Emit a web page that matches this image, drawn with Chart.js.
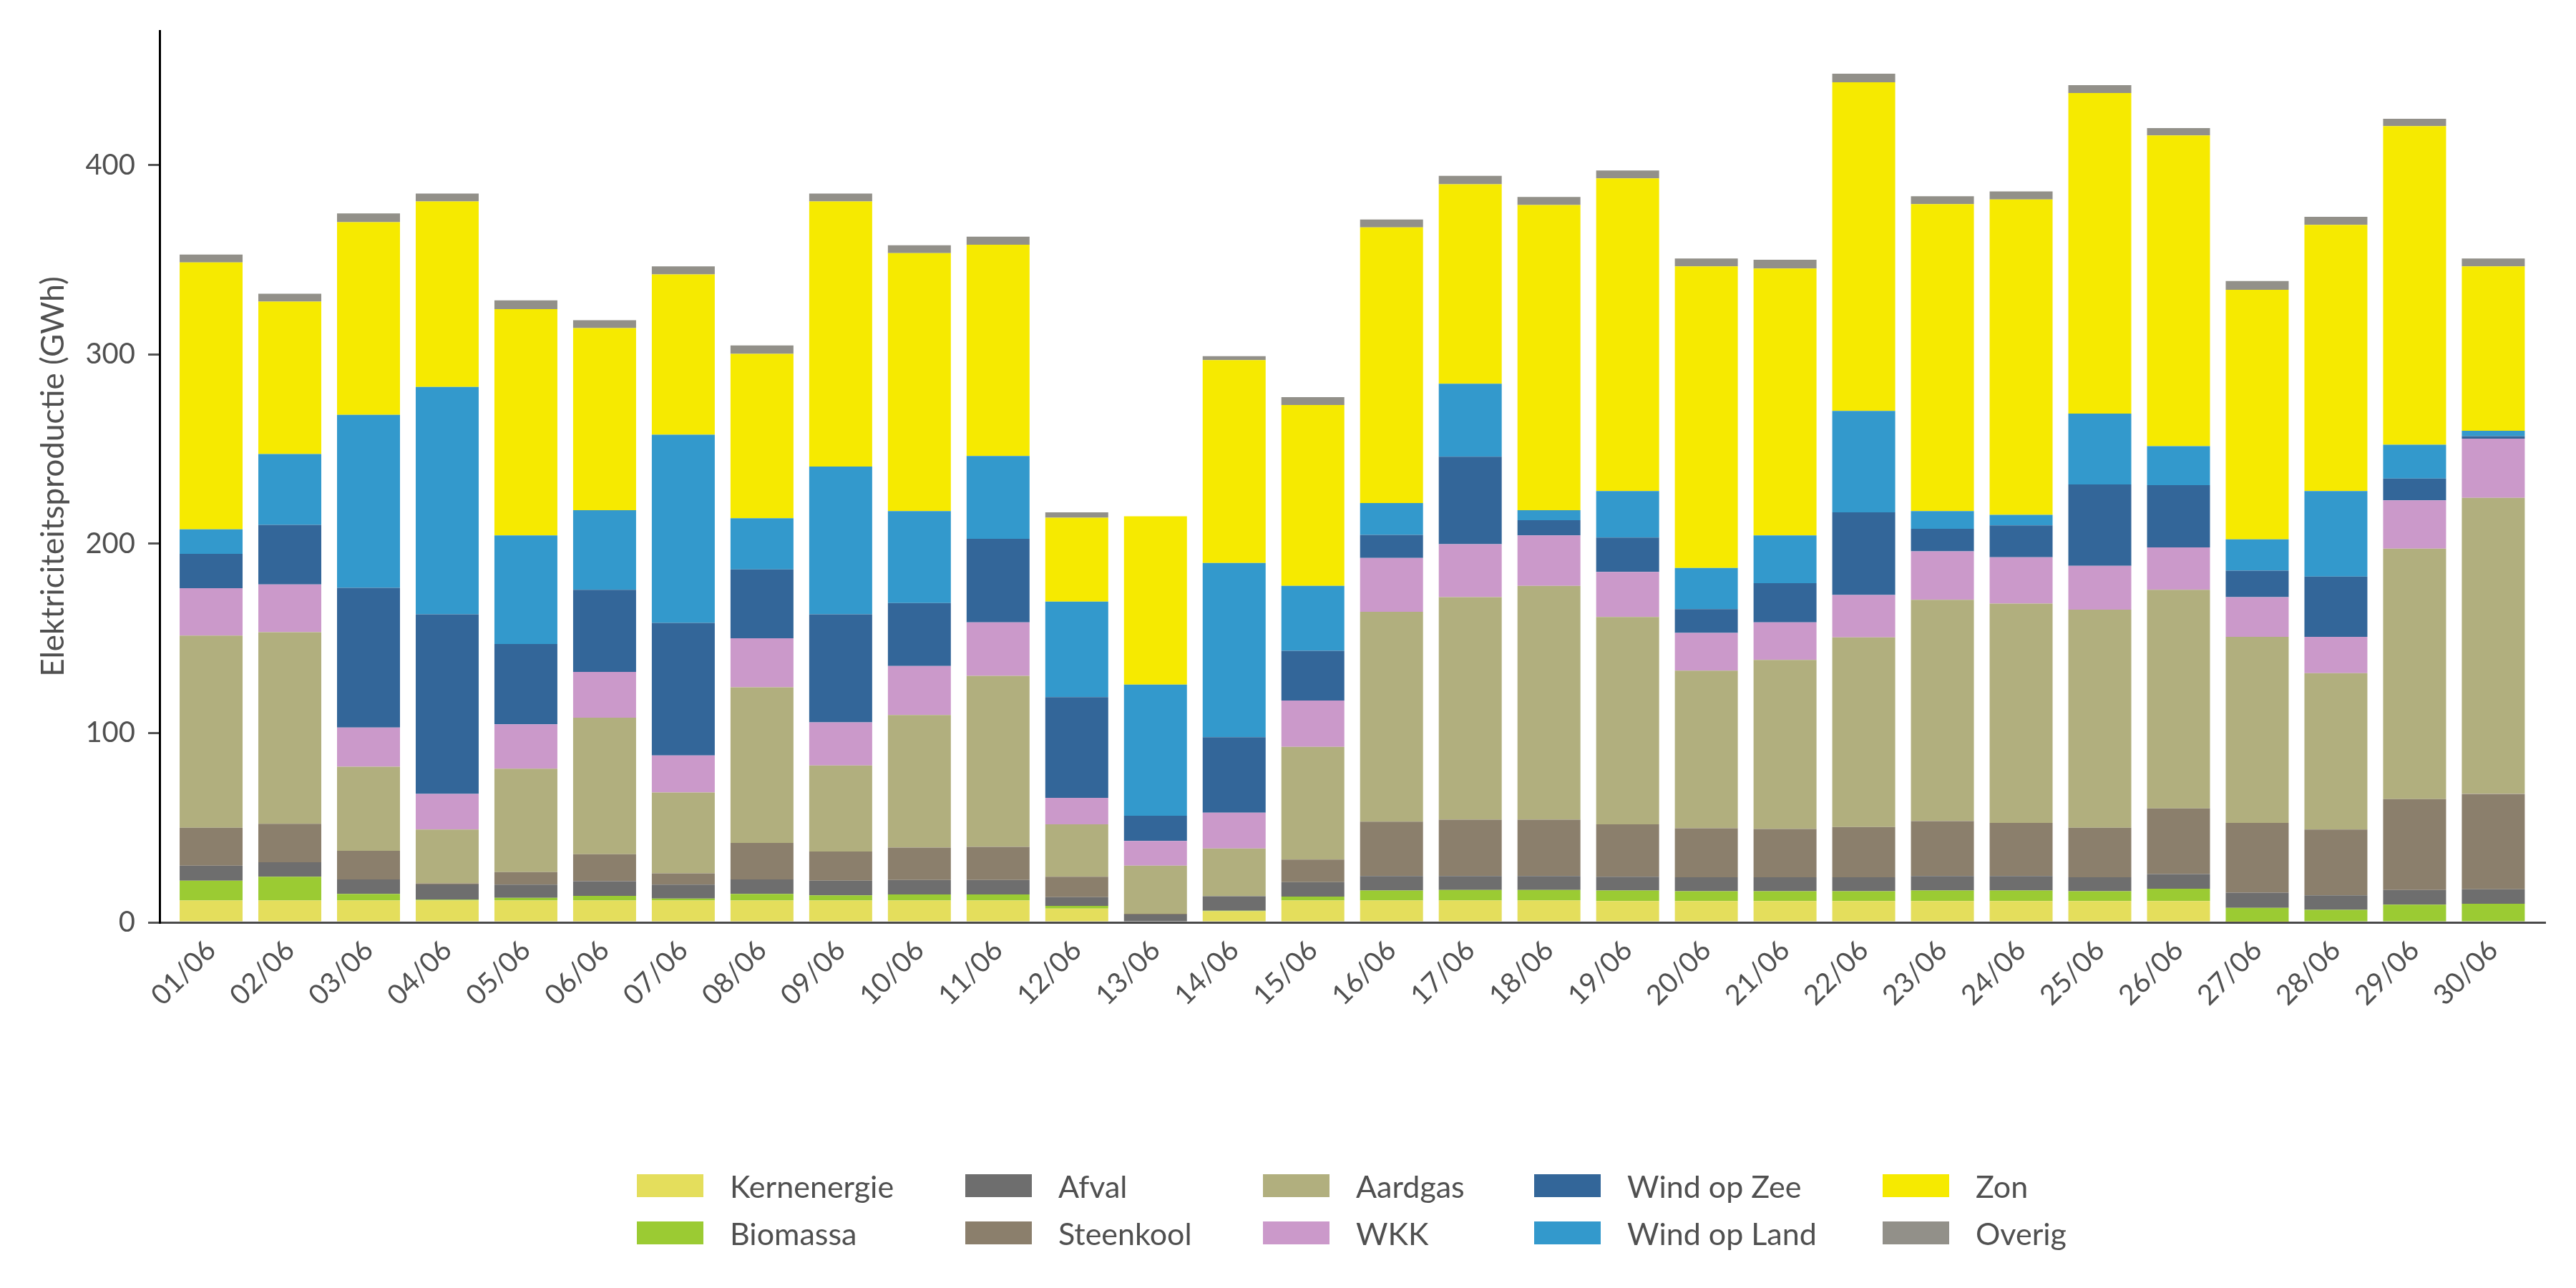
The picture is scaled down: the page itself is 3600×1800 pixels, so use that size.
<!DOCTYPE html>
<html>
<head>
<meta charset="utf-8">
<title>Elektriciteitsproductie juni</title>
<script src="https://cdn.jsdelivr.net/npm/chart.js@4/dist/chart.umd.min.js"></script>
<style>
  html, body { margin: 0; padding: 0; background: #fff; }
  #wrap { position: relative; width: 3600px; height: 1800px; }
  #legend {
    position: absolute; left: 890px; top: 1641px;
    display: grid; grid-auto-flow: column;
    grid-template-rows: 32px 32px; row-gap: 34px;
    grid-template-columns: 459px 416px 379px 487px auto;
    font-family: Lato, sans-serif; font-size: 43px; color: #505050;
  }
  .item { display: flex; align-items: center; height: 32px; white-space: nowrap; }
  .box { width: 93px; height: 32px; margin-right: 37px; flex: none; }
</style>
</head>
<body>
<div id="wrap">
  <canvas id="myChart" width="3600" height="1800"></canvas>
  <div id="legend"></div>
</div>
<script>
(() => {
  'use strict'

  const days = ['01/06', '02/06', '03/06', '04/06', '05/06', '06/06', '07/06', '08/06', '09/06', '10/06',
    '11/06', '12/06', '13/06', '14/06', '15/06', '16/06', '17/06', '18/06', '19/06', '20/06',
    '21/06', '22/06', '23/06', '24/06', '25/06', '26/06', '27/06', '28/06', '29/06', '30/06']

  // GWh per dag
  const kernenergie = [11.5, 11.5, 11.5, 11.5, 11.5, 11.5, 11.5, 11.5, 11.5, 11.5,
    11.5, 7.3, 0, 5.9, 11.5, 11.5, 11.5, 11.5, 11.2, 11.2,
    11.2, 11.2, 11.2, 11.2, 11.2, 11.2, 0.4, 0, 0, 0]
  const biomassa = [10.5, 12.6, 3.5, 0.5, 1.4, 2.5, 1.1, 3.5, 2.8, 3.2,
    3.2, 1.4, 0, 0.2, 2.1, 5.3, 5.6, 5.6, 5.6, 5.2,
    5.2, 5.2, 5.6, 5.6, 5.2, 6.6, 7.3, 6.6, 9.4, 9.8]
  const afval = [8, 7.7, 7.7, 8, 7, 7.7, 7.3, 7.7, 7.7, 7.7,
    7.7, 4.6, 4.2, 7.7, 7.7, 7.7, 7.4, 7.4, 7.3, 7.4,
    7.4, 7.4, 7.7, 7.7, 7.4, 7.7, 8, 7.7, 7.7, 7.7]
  const steenkool = [20, 20.3, 15.1, 0.6, 6.7, 14.3, 6, 19.3, 15.4, 17.1,
    17.5, 10.8, 0.3, 0, 11.9, 28.7, 29.7, 29.7, 27.7, 25.9,
    25.5, 26.6, 29, 28, 26.2, 34.7, 36.8, 34.7, 48, 50.4]
  const aardgas = [101.5, 101.2, 44.4, 28.4, 54.6, 72.1, 42.7, 82.2, 45.5, 70,
    90.3, 27.7, 25.5, 25.2, 59.5, 110.9, 117.6, 123.6, 109.5, 83.3,
    89.3, 100.1, 116.9, 115.9, 115.2, 115.5, 98.3, 82.6, 132.3, 156.4]
  const wkk = [25, 25.2, 20.7, 18.9, 23.4, 24.2, 19.6, 25.9, 22.8, 25.9,
    28.3, 14, 13, 18.9, 24.5, 28.4, 28, 26.6, 23.8, 19.9,
    19.9, 22.4, 25.6, 24.5, 23.1, 22.4, 21, 19.2, 25.5, 31.2]
  const windOpZee = [18.2, 31.5, 73.8, 94.8, 42.4, 43.4, 70, 36.4, 57, 33.3,
    44.1, 53.2, 13.3, 39.9, 26.3, 12.2, 46.2, 8, 18.2, 12.6,
    20.7, 43.7, 11.9, 16.8, 43, 32.9, 14, 31.9, 11.6, 1.4]
  const windOpLand = [12.9, 37.4, 91.4, 120.1, 57.4, 42, 99.4, 27, 78.1, 48.6,
    43.8, 50.4, 69.3, 92.1, 34.3, 16.8, 38.5, 5.3, 24.5, 21.7,
    25.2, 53.6, 9.4, 5.6, 37.5, 20.6, 16.5, 45.1, 17.8, 2.8]
  const zon = [141, 80.5, 101.8, 98, 119.6, 96.2, 84.7, 86.8, 140, 136.2,
    111.6, 44.4, 88.9, 107.1, 95.5, 145.6, 105.4, 161.3, 165.2, 159.3,
    141, 173.6, 162.1, 166.6, 169.3, 164.1, 131.9, 140.7, 168.3, 86.8]
  const overig = [4.2, 4.2, 4.6, 4.2, 4.6, 4.2, 4.2, 4.5, 4.2, 4.2,
    4.2, 2.8, 0, 2.1, 4.2, 4.2, 4.5, 4.2, 4.2, 4.2,
    4.6, 4.5, 4.2, 4.2, 4.2, 3.9, 4.6, 4.2, 3.9, 4.2]

  const yTicks = [0, 100, 200, 300, 400]

  const series = [
    { label: 'Kernenergie', data: kernenergie, color: '#e4de5c' },
    { label: 'Biomassa', data: biomassa, color: '#9bcb33' },
    { label: 'Afval', data: afval, color: '#6e6e6e' },
    { label: 'Steenkool', data: steenkool, color: '#8b7f6c' },
    { label: 'Aardgas', data: aardgas, color: '#b1af7e' },
    { label: 'WKK', data: wkk, color: '#cb99ca' },
    { label: 'Wind op Zee', data: windOpZee, color: '#336699' },
    { label: 'Wind op Land', data: windOpLand, color: '#3399cc' },
    { label: 'Zon', data: zon, color: '#f6ea00' },
    { label: 'Overig', data: overig, color: '#929089' }
  ]

  const textColor = '#505050'
  const font = 'Lato'

  const ctx = document.getElementById('myChart')
  // eslint-disable-next-line no-unused-vars
  const myChart = new Chart(ctx, {
    type: 'bar',
    data: {
      labels: days.map((d, i) => i),
      datasets: series.map(s => ({
        label: s.label,
        data: s.data,
        backgroundColor: s.color,
        borderWidth: 0,
        categoryPercentage: 0.8,
        barPercentage: 1
      }))
    },
    options: {
      responsive: false,
      animation: false,
      layout: { padding: { top: 43, right: 43, left: 0, bottom: 0 } },
      plugins: {
        legend: { display: false },
        tooltip: { enabled: false }
      },
      scales: {
        x: {
          type: 'linear',
          stacked: true,
          offset: false,
          min: -0.655,
          max: 29.66,
          grid: { display: false, drawTicks: false, offset: false },
          border: { color: '#4a4a4a', width: 3 },
          ticks: {
            stepSize: 1,
            autoSkip: false,
            includeBounds: false,
            minRotation: 45,
            maxRotation: 45,
            padding: 16,
            color: textColor,
            font: { family: font, size: 39 },
            callback: v => Number.isInteger(v) ? days[v] : ''
          },
          afterFit: scale => { scale.height = 511 }
        },
        y: {
          stacked: true,
          min: 0,
          max: 471,
          afterBuildTicks: scale => { scale.ticks = yTicks.map(v => ({ value: v })) },
          grid: { drawOnChartArea: false, tickLength: 16, color: '#555', lineWidth: 3 },
          border: { color: '#000', width: 3 },
          ticks: {
            padding: 18,
            color: textColor,
            font: { family: font, size: 40 }
          },
          title: {
            display: true,
            text: 'Elektriciteitsproductie (GWh)',
            color: textColor,
            font: { family: font, size: 44 },
            padding: { top: 48, bottom: 0 }
          },
          afterFit: scale => { scale.width = 223 }
        }
      }
    }
  })

  // legenda in kolommen, zoals in het origineel
  const legend = document.getElementById('legend')
  myChart.data.datasets.forEach(ds => {
    const item = document.createElement('div')
    item.className = 'item'
    const box = document.createElement('span')
    box.className = 'box'
    box.style.background = ds.backgroundColor
    const txt = document.createElement('span')
    txt.textContent = ds.label
    item.appendChild(box)
    item.appendChild(txt)
    legend.appendChild(item)
  })
})()
</script>
</body>
</html>
